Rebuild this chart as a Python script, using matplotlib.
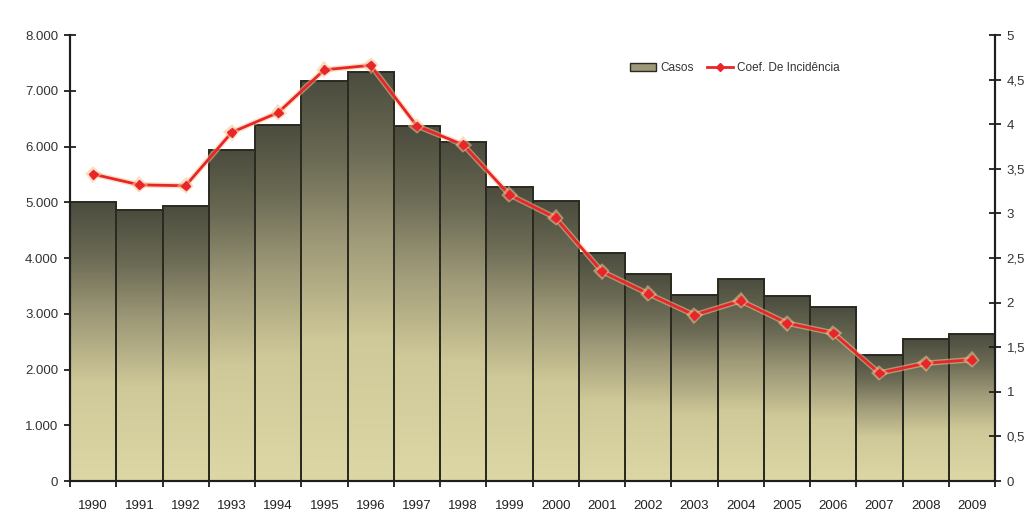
import matplotlib
matplotlib.use("Agg")
import matplotlib.pyplot as plt
import numpy as np
from matplotlib.colors import LinearSegmentedColormap
from matplotlib.lines import Line2D
from matplotlib.patches import Patch
import matplotlib.patheffects as pe

plt.rcParams['font.family'] = ['Liberation Sans', 'DejaVu Sans']

anos = ['1990', '1991', '1992', '1993', '1994', '1995', '1996', '1997', '1998', '1999',
        '2000', '2001', '2002', '2003', '2004', '2005', '2006', '2007', '2008', '2009']
casos = [5000, 4860, 4940, 5930, 6390, 7170, 7340, 6360, 6080, 5270,
         5020, 4090, 3710, 3330, 3630, 3310, 3120, 2260, 2540, 2630]
coef = [3.44, 3.32, 3.31, 3.91, 4.13, 4.61, 4.66, 3.98, 3.77, 3.21,
        2.95, 2.35, 2.10, 1.86, 2.02, 1.77, 1.66, 1.21, 1.32, 1.36]
left_ticks = [0, 1000, 2000, 3000, 4000, 5000, 6000, 7000, 8000]
left_labels = ['0', '1.000', '2.000', '3.000', '4.000', '5.000', '6.000', '7.000', '8.000']
right_ticks = [0, 0.5, 1, 1.5, 2, 2.5, 3, 3.5, 4, 4.5, 5]
right_labels = ['0', '0,5', '1', '1,5', '2', '2,5', '3', '3,5', '4', '4,5', '5']

W, H = 1034, 529
fig = plt.figure(figsize=(W / 100, H / 100), dpi=100)
ax = fig.add_axes([70 / W, 1 - 481 / H, (995 - 70) / W, (481 - 35) / H])
ax2 = ax.twinx()

# bar fill: light khaki at the base fading to dark olive at the top
cmap = LinearSegmentedColormap.from_list(
    'casos', [(0.0, '#ddd7a6'), (0.35, '#cfc898'), (0.6, '#9d9877'),
              (0.8, '#6c6b55'), (1.0, '#4b4c3e')])
grad = np.linspace(0, 1, 256).reshape(-1, 1)

x = np.arange(len(anos))
bars = ax.bar(x, casos, width=1.0, facecolor='none', edgecolor='#2a2a20',
              linewidth=1.4, zorder=3)
for b in bars:
    bx, by = b.get_x(), b.get_y()
    bw, bh = b.get_width(), b.get_height()
    im = ax.imshow(grad, cmap=cmap, origin='lower', aspect='auto',
                   extent=[bx, bx + bw, by, by + bh], zorder=2,
                   interpolation='bilinear')
    im.set_clip_path(b)

ax.set_xlim(-0.5, len(anos) - 0.5)
ax.set_ylim(0, 8000)
ax2.set_ylim(0, 5)

line, = ax2.plot(x, coef, color='#e8252b', lw=2.0, marker='D', ms=4.5,
                 markerfacecolor='#e8252b', markeredgecolor='#e8252b', zorder=5,
                 path_effects=[pe.Stroke(linewidth=4.0, foreground='#f6c48e', alpha=0.55),
                               pe.Normal()])
ax2.set_zorder(ax.get_zorder() + 1)
ax2.patch.set_visible(False)

# axes styling
for a in (ax, ax2):
    a.spines['top'].set_visible(False)
    for s in ('left', 'right', 'bottom'):
        a.spines[s].set_linewidth(1.5)
        a.spines[s].set_color('#1e1e1e')

ax.set_yticks(left_ticks)
ax.set_yticklabels(left_labels)
ax2.set_yticks(right_ticks)
ax2.set_yticklabels(right_labels)
ax.tick_params(axis='y', direction='inout', length=9, width=1.3, labelsize=9.5,
               colors='#1e1e1e', labelcolor='#333333', pad=4)
ax2.tick_params(axis='y', direction='inout', length=9, width=1.3, labelsize=9.5,
                colors='#1e1e1e', labelcolor='#333333', pad=4)

ax.set_xticks(x)
ax.set_xticklabels(anos)
ax.set_xticks(np.arange(-0.5, len(anos), 1.0), minor=True)
ax.tick_params(axis='x', which='major', length=0, labelsize=9.5, pad=14,
               labelcolor='#222222')
ax.tick_params(axis='x', which='minor', direction='inout', length=8, width=1.3,
               colors='#1e1e1e')

handles = [Patch(facecolor='#9d9877', edgecolor='#2a2a20', linewidth=1.0),
           Line2D([0], [0], color='#e8252b', lw=2.0, marker='D', ms=4.5)]
fig.legend(handles, ['Casos', 'Coef. De Incidência'], loc='center',
           bbox_to_anchor=(735 / W, 1 - 68 / H), ncol=2, frameon=False,
           fontsize=8.5, handlelength=2.2, handleheight=0.6, columnspacing=1.2,
           handletextpad=0.3, labelcolor='#333333')

fig.savefig('out.png', dpi=100, facecolor='white')
